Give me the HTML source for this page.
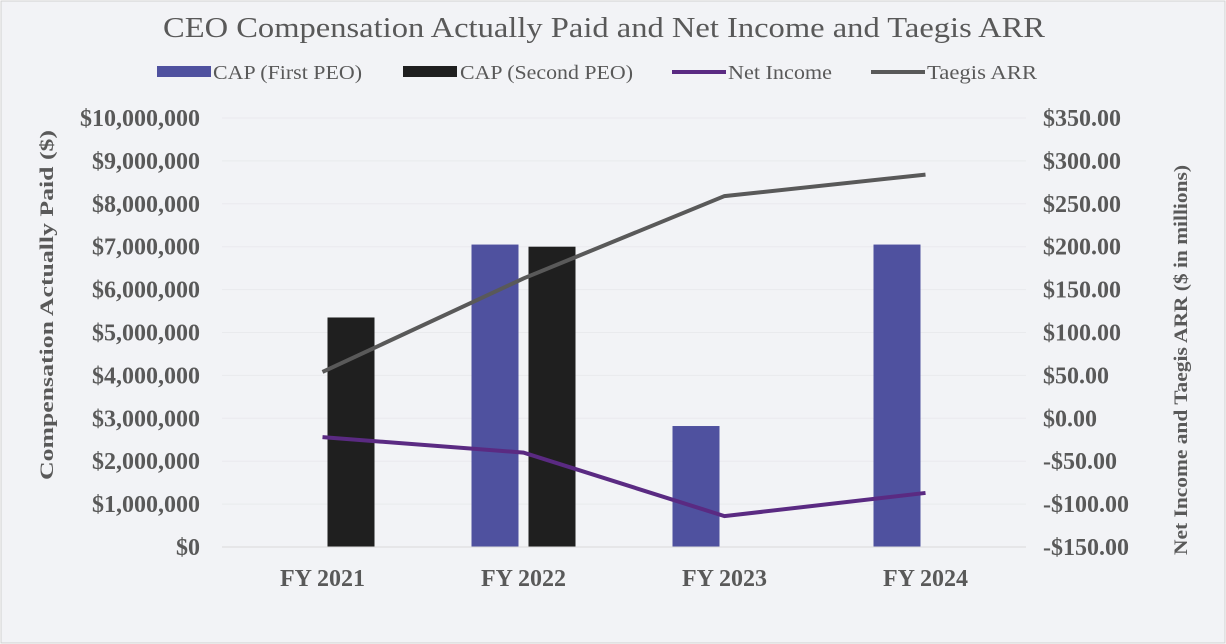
<!DOCTYPE html>
<html><head><meta charset="utf-8"><style>
html,body{margin:0;padding:0;background:#fff}
svg{display:block;font-family:"Liberation Serif",serif}
</style></head><body>
<svg id="c" width="1226" height="644" xmlns="http://www.w3.org/2000/svg">
<rect x="1" y="1" width="1224" height="642" fill="#f2f3f6" stroke="#d0d0d0"/>
<text x="163" y="37" textLength="882" lengthAdjust="spacingAndGlyphs" font-size="29" fill="#595959">CEO Compensation Actually Paid and Net Income and Taegis ARR</text>
<g font-size="20" fill="#595959">
<g><rect x="157" y="66" width="54" height="11" fill="#4f519f"/><text x="213" y="79" textLength="149" lengthAdjust="spacingAndGlyphs">CAP (First PEO)</text></g>
<g><rect x="403" y="66" width="54" height="11" fill="#1f1f1f"/><text x="460" y="79" textLength="173" lengthAdjust="spacingAndGlyphs">CAP (Second PEO)</text></g>
<g><line x1="672" y1="72" x2="726" y2="72" stroke="#5a2a82" stroke-width="4"/><text x="728" y="79" textLength="104" lengthAdjust="spacingAndGlyphs">Net Income</text></g>
<g><line x1="871" y1="72" x2="925" y2="72" stroke="#595959" stroke-width="4"/><text x="927" y="79" textLength="110" lengthAdjust="spacingAndGlyphs">Taegis ARR</text></g>
</g>
<text transform="translate(53,480) rotate(-90)" textLength="350" lengthAdjust="spacingAndGlyphs" font-size="19" font-weight="bold" fill="#595959">Compensation Actually Paid ($)</text>
<text transform="translate(1187,555) rotate(-90)" textLength="390" lengthAdjust="spacingAndGlyphs" font-size="19" font-weight="bold" fill="#595959">Net Income and Taegis ARR ($ in millions)</text>
<g id="grid"></g><g id="bars"></g><g id="lines"></g><g id="axes"></g>
</svg>
<script>
const categories=["FY 2021","FY 2022","FY 2023","FY 2024"];
const capFirst=[null,7050000,2820000,7050000];
const capSecond=[5350000,7000000,null,null];
const netIncome=[-22,-40,-114,-87];
const taegisArr=[54,163,259,284];
const leftTicks=[0,1,2,3,4,5,6,7,8,9,10];
const rightTicks=[-150,-100,-50,0,50,100,150,200,250,300,350];
const NS="http://www.w3.org/2000/svg";
const plotTop=118,plotBot=547,px0=222,px1=1026;
const yL=v=>plotBot-(v/10000000)*(plotBot-plotTop);
const yR=v=>plotBot-((v+150)/500)*(plotBot-plotTop);
const band=(px1-px0)/categories.length;
const xC=i=>px0+band*(i+0.5);
function mk(tag,attrs,parent){const e=document.createElementNS(NS,tag);for(const k in attrs)e.setAttribute(k,attrs[k]);document.getElementById(parent).appendChild(e);return e;}
leftTicks.forEach(t=>{
  const g=mk('line',{x1:px0,x2:px1,y1:yL(t*1e6),y2:yL(t*1e6),stroke:'#e9eaed','stroke-width':1},'grid');
  
  
  const l=mk('text',{x:200,y:yL(t*1e6)+8,'text-anchor':'end','font-size':24,'font-weight':'bold',fill:'#595959'},'axes');
  l.textContent=t===0?'$0':'$'+(t*1e6).toLocaleString('en-US');
  
  
});
rightTicks.forEach(t=>{
  const l=mk('text',{x:1043,y:yR(t)+8,'font-size':24,'font-weight':'bold',fill:'#595959'},'axes');
  l.textContent=(t<0?'-$':'$')+Math.abs(t).toFixed(2);
  
  
});
const ax=mk('line',{x1:px0,x2:px1,y1:plotBot,y2:plotBot,stroke:'#d9d9d9'},'axes');


categories.forEach((c,i)=>{
  const l=mk('text',{x:xC(i),y:586,'text-anchor':'middle','font-size':24,'font-weight':'bold',fill:'#595959'},'axes');
  l.textContent=c;
  
  
  const bw=47;
  if(capFirst[i]!=null){
    const r=mk('rect',{x:xC(i)-52,y:yL(capFirst[i]),width:bw,height:plotBot-yL(capFirst[i]),fill:'#4f519f'},'bars');
    
    
  }
  if(capSecond[i]!=null){
    const r=mk('rect',{x:xC(i)+5,y:yL(capSecond[i]),width:bw,height:plotBot-yL(capSecond[i]),fill:'#1f1f1f'},'bars');
    
    
  }
});
const p1=mk('polyline',{points:netIncome.map((v,i)=>xC(i)+','+yR(v)).join(' '),fill:'none',stroke:'#5a2a82','stroke-width':4},'lines');


const p2=mk('polyline',{points:taegisArr.map((v,i)=>xC(i)+','+yR(v)).join(' '),fill:'none',stroke:'#595959','stroke-width':4},'lines');


</script>
</body></html>
